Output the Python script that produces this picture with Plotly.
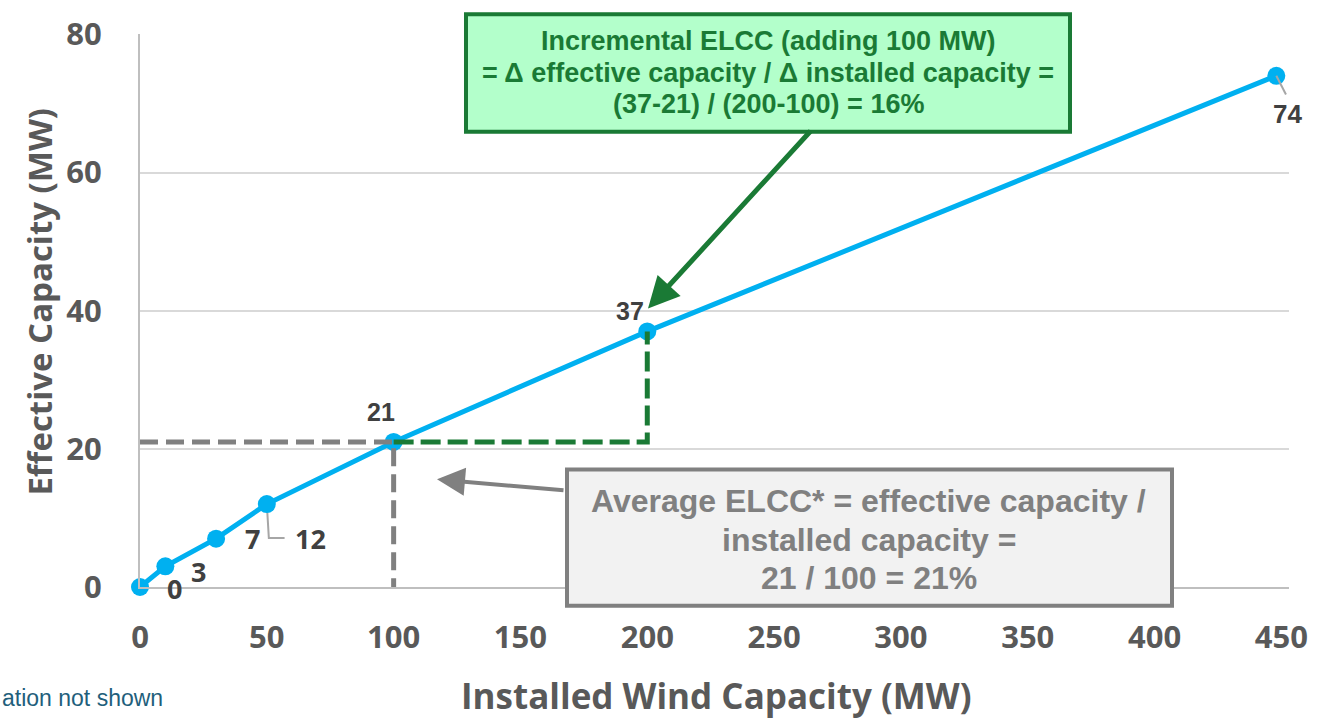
import plotly.graph_objects as go

# Installed wind capacity (MW) and resulting effective capacity (MW)
installed_mw = [0, 10, 30, 50, 100, 200, 448]
effective_mw = [0, 3, 7, 12, 21, 37, 74]
point_labels = ["0", "3", "7", "12", "21", "37", "74"]

x_ticks = [0, 50, 100, 150, 200, 250, 300, 350, 400, 450]
y_ticks = [0, 20, 40, 60, 80]

incremental_text = [
    "Incremental ELCC (adding 100 MW)",
    "= \u0394 effective capacity / \u0394 installed capacity =",
    "(37-21) / (200-100) = 16%",
]
average_text = [
    "Average ELCC* = effective capacity /",
    "installed capacity =",
    "21 / 100 = 21%",
]
footnote = "ation not shown"

W, H = 1322, 722
L, R, T, B = 140, 1289, 27, 587
X_MAX = 453


def px(xp):
    return (xp - L) / (R - L)


def py(yp):
    return (B - yp) / (B - T)


BLUE = "#00b0f0"
GREEN = "#1a7a35"
GREEN_FILL = "#b3ffcb"
GREY = "#808080"
LABEL = "#404040"
AXIS_TXT = "#595959"
SANS = "Open Sans, sans-serif"
ARIAL = "Arial, Liberation Sans, sans-serif"

fig = go.Figure()

# ELCC curve
fig.add_trace(go.Scatter(
    x=installed_mw, y=effective_mw, mode="lines+markers",
    line=dict(color=BLUE, width=5),
    marker=dict(color=BLUE, size=18),
    cliponaxis=False, hoverinfo="skip", showlegend=False,
))

i100 = installed_mw.index(100)
i200 = installed_mw.index(200)
x100, y100 = installed_mw[i100], effective_mw[i100]
x200, y200 = installed_mw[i200], effective_mw[i200]

# Average ELCC guide (grey dashes)
fig.add_trace(go.Scatter(
    x=[0, x100, x100], y=[y100, y100, 0], mode="lines",
    line=dict(color=GREY, width=5, dash="18px,8px"),
    hoverinfo="skip", showlegend=False,
))
# Incremental ELCC step (green dashes)
fig.add_trace(go.Scatter(
    x=[x100, x200, x200], y=[y100, y100, y200], mode="lines",
    line=dict(color=GREEN, width=5, dash="20px,7px"),
    hoverinfo="skip", showlegend=False,
))

annotations = []
shapes = []

# Point value labels: (xshift, yshift, font family, size)
label_style = [
    (34, -1, SANS, 27),
    (33, -5, SANS, 27),
    (36, 0, SANS, 27),
    (44, -34, SANS, 27),
    (-13, 30, ARIAL, 25),
    (-17, 20, ARIAL, 25),
    (11, -38, ARIAL, 26),
]
for xv, yv, lab, (dx, dy, fam, sz) in zip(installed_mw, effective_mw, point_labels, label_style):
    annotations.append(dict(
        x=xv, y=yv, xref="x", yref="y", text=lab, showarrow=False,
        xshift=dx, yshift=dy, font=dict(family=fam, size=sz, color=LABEL, weight="bold"),
    ))

# Leader lines for the "12" and "74" labels
shapes.append(dict(
    type="path", xref="x", yref="y",
    path=f"M {installed_mw[3]},{effective_mw[3]} L {installed_mw[3] + 0.8},{effective_mw[3] - 4.9} "
         f"L {installed_mw[3] + 7},{effective_mw[3] - 4.9}",
    line=dict(color="#a6a6a6", width=2), layer="below",
))
shapes.append(dict(
    type="line", xref="x", yref="y",
    x0=installed_mw[6], y0=effective_mw[6], x1=installed_mw[6] + 3.8, y1=effective_mw[6] - 2.7,
    line=dict(color="#a6a6a6", width=2),
))

# Callout boxes
shapes.append(dict(type="rect", xref="paper", yref="paper",
                   x0=px(466), x1=px(1070), y0=py(126), y1=py(7),
                   line=dict(color=GREEN, width=4), fillcolor=GREEN_FILL, layer="above"))
shapes.append(dict(type="rect", xref="paper", yref="paper",
                   x0=px(567), x1=px(1172), y0=py(606), y1=py(468),
                   line=dict(color=GREY, width=4), fillcolor="#f2f2f2", layer="above"))

for line, yc in zip(incremental_text, [34, 66, 98]):
    annotations.append(dict(x=px(768), y=py(yc), xref="paper", yref="paper", text=line,
                            showarrow=False, xanchor="center", yanchor="middle",
                            font=dict(family=ARIAL, size=27, color=GREEN, weight="bold")))
for line, yc in zip(average_text, [500, 539, 578]):
    annotations.append(dict(x=px(869), y=py(yc), xref="paper", yref="paper", text=line,
                            showarrow=False, xanchor="center", yanchor="middle",
                            font=dict(family=ARIAL, size=32, color=GREY, weight="bold")))

# Callout arrows
annotations.append(dict(x=px(648), y=py(305), xref="paper", yref="paper", text="",
                        showarrow=True, axref="pixel", ayref="pixel", ax=164, ay=-179,
                        arrowhead=2, arrowsize=1.25, arrowwidth=5, arrowcolor=GREEN, standoff=0))
annotations.append(dict(x=px(437), y=py(478), xref="paper", yref="paper", text="",
                        showarrow=True, axref="pixel", ayref="pixel", ax=128, ay=11,
                        arrowhead=2, arrowsize=1.4, arrowwidth=4, arrowcolor=GREY, standoff=0))

# Axis titles
annotations.append(dict(x=px(716), y=py(697), xref="paper", yref="paper",
                        text="Installed Wind Capacity (MW)", showarrow=False,
                        xanchor="center", yanchor="middle",
                        font=dict(family=SANS, size=35, color=AXIS_TXT, weight="bold")))
annotations.append(dict(x=px(40), y=py(298), xref="paper", yref="paper",
                        text="Effective Capacity (MW)", showarrow=False, textangle=-90,
                        xanchor="center", yanchor="middle",
                        font=dict(family=SANS, size=33, color=AXIS_TXT, weight="bold")))

# Footnote
annotations.append(dict(x=px(0), y=py(699), xref="paper", yref="paper",
                        text=footnote, showarrow=False,
                        xanchor="left", yanchor="middle",
                        font=dict(family=ARIAL, size=23, color="#1f5f7c")))

fig.update_layout(
    width=W, height=H,
    margin=dict(l=L, r=W - R, t=T, b=H - B, pad=0),
    plot_bgcolor="white", paper_bgcolor="white",
    showlegend=False,
    annotations=annotations, shapes=shapes,
    xaxis=dict(range=[0, X_MAX], tickvals=x_ticks, ticktext=[str(v) for v in x_ticks],
               showgrid=False, zeroline=False, showline=True, linecolor="#bfbfbf", linewidth=2,
               ticks="", ticklabelstandoff=22,
               tickfont=dict(family=SANS, size=31, color=AXIS_TXT, weight="bold")),
    yaxis=dict(range=[0, 80.05], tickvals=y_ticks, ticktext=[str(v) for v in y_ticks],
               showgrid=True, gridcolor="#d9d9d9", gridwidth=2, zeroline=False,
               showline=True, linecolor="#bfbfbf", linewidth=2,
               ticks="", ticklabelstandoff=30,
               tickfont=dict(family=SANS, size=31, color=AXIS_TXT, weight="bold")),
)

fig.write_html("out.html")
